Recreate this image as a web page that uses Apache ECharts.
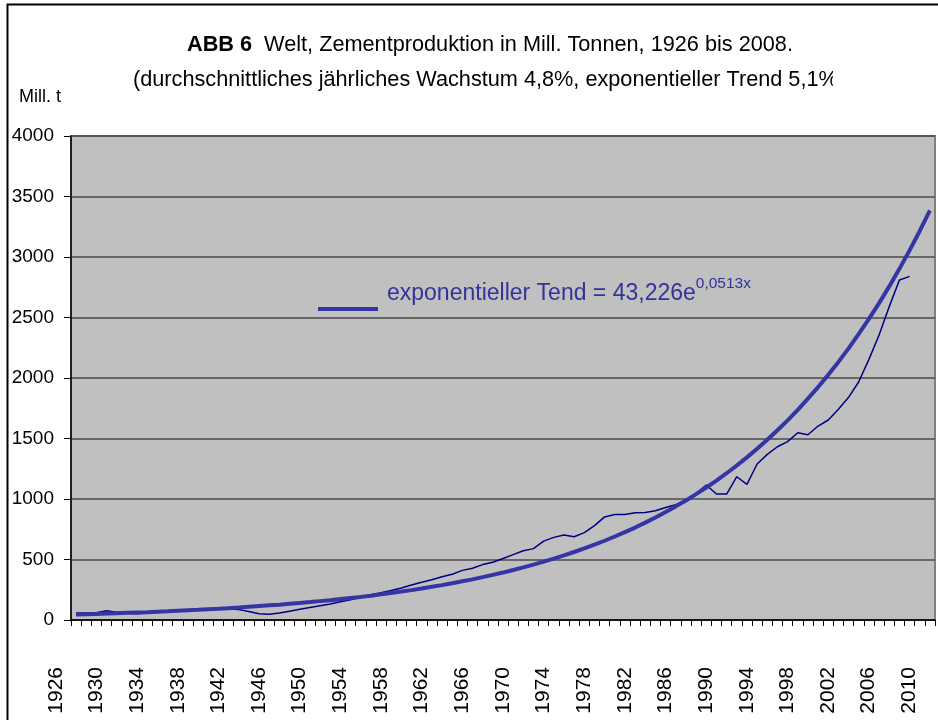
<!DOCTYPE html>
<html>
<head>
<meta charset="utf-8">
<script src="https://cdn.jsdelivr.net/npm/echarts@6/dist/echarts.min.js"></script>
<style>
  html, body { margin: 0; padding: 0; background: #fff; }
  #chart { width: 938px; height: 720px; }
</style>
</head>
<body>
<div id="chart"></div>
<script>
// Jahre der Kategorieachse (Daten 1926-2008, Trend bis 2010)
var years = [];
for (var y = 1926; y <= 2010; y++) years.push(String(y));

// Beschriftung der x-Achse (jedes 4. Jahr)
var tickLabels = ['1926', '1930', '1934', '1938', '1942', '1946', '1950', '1954', '1958', '1962', '1966',
  '1970', '1974', '1978', '1982', '1986', '1990', '1994', '1998', '2002', '2006', '2010'];

// Zementproduktion, Mill. t
var production = [58, 57, 60, 77, 64, 55, 52, 58, 65, 72,
  78, 82, 85, 88, 90, 90, 86, 70, 52, 47,
  58, 73, 88, 103, 118, 133, 150, 168, 188, 208,
  226, 244, 264, 290, 312, 333, 358, 378, 410, 428,
  458, 477, 508, 540, 572, 590, 652, 683, 702, 688,
  722, 780, 852, 872, 872, 887, 888, 903, 930, 953,
  992, 1047, 1116, 1041, 1041, 1184, 1121, 1289, 1369, 1432,
  1474, 1548, 1531, 1603, 1653, 1741, 1840, 1969, 2154, 2355,
  2590, 2810, 2840];

// exponentieller Trend
var trend = [46, 48, 50, 53, 56, 59, 62, 65, 69, 72,
  76, 80, 84, 89, 93, 98, 103, 109, 115, 121,
  127, 134, 141, 148, 156, 164, 173, 182, 191, 201,
  212, 223, 235, 247, 260, 274, 288, 304, 320, 336,
  354, 373, 392, 413, 435, 458, 482, 507, 534, 562,
  592, 623, 655, 690, 726, 764, 805, 847, 892, 939,
  988, 1040, 1095, 1152, 1213, 1277, 1344, 1415, 1489, 1568,
  1650, 1737, 1829, 1925, 2026, 2133, 2245, 2364, 2488, 2619,
  2757, 2902, 3055, 3215, 3385];

// Beschriftungsachse: um zwei Kategorien nach links versetzt (wie im Original)
var labelCats = [];
for (var i = 0; i < 87; i++) labelCats.push(i % 4 === 0 ? tickLabels[i / 4] : '');

var font = '"Liberation Sans", Arial, sans-serif';
var myChart = echarts.init(document.getElementById('chart'));

var option = {
  animation: false,
  textStyle: { fontFamily: font },
  title: [
    {
      text: '{b|ABB 6}  Welt, Zementproduktion in Mill. Tonnen, 1926 bis 2008.',
      left: 187, top: 34, padding: 0,
      textStyle: { fontSize: 21.7, fontWeight: 'normal', color: '#000', fontFamily: font,
        rich: { b: { fontSize: 21.7, fontWeight: 'bold', color: '#000', fontFamily: font } } }
    },
    {
      text: '(durchschnittliches jährliches Wachstum 4,8%, exponentieller Trend 5,1%)',
      left: 133, top: 69, padding: 0,
      textStyle: { fontSize: 21.7, fontWeight: 'normal', color: '#000', fontFamily: font }
    },
    {
      text: 'Mill. t',
      left: 19, top: 88, padding: 0,
      textStyle: { fontSize: 18, fontWeight: 'normal', color: '#000', fontFamily: font }
    }
  ],
  legend: {
    data: ['exponentieller Tend'],
    left: 318, top: 276, padding: 0,
    icon: 'rect', itemWidth: 60, itemHeight: 4,
    formatter: function () { return '{a|exponentieller Tend = 43,226e}{s|0,0513x}'; },
    textStyle: {
      color: '#333399',
      rich: {
        a: { fontSize: 23, color: '#333399', fontFamily: font, padding: [0, 0, 30, 4] },
        s: { fontSize: 15.5, color: '#333399', fontFamily: font, padding: [0, 0, 50, 0] }
      }
    }
  },
  grid: [
    { left: 71, right: 3, top: 136, bottom: 100, show: true, backgroundColor: '#c0c0c0',
      borderColor: '#808080', borderWidth: 2 },
    { left: 50.7, right: 3.3, top: 136, bottom: 100 }
  ],
  xAxis: [
    {
      type: 'category', gridIndex: 0, data: years, boundaryGap: true,
      axisLine: { lineStyle: { color: '#000', width: 1.5 } },
      axisTick: { show: true, interval: 0, length: 6, lineStyle: { color: '#000', width: 1 } },
      axisLabel: { show: false }
    },
    {
      type: 'category', gridIndex: 1, data: labelCats, boundaryGap: true,
      axisLine: { show: false }, axisTick: { show: false },
      axisLabel: { interval: 0, rotate: 90, margin: 47, fontSize: 21, color: '#000', fontFamily: font }
    }
  ],
  yAxis: [
    {
      type: 'value', gridIndex: 0, min: 0, max: 4000, interval: 500,
      axisLine: { show: true, lineStyle: { color: '#000', width: 1.5 } },
      axisTick: { show: true, length: 7, lineStyle: { color: '#000' } },
      axisLabel: { fontSize: 19, color: '#000', margin: 17, fontFamily: font,
        formatter: function (v) { return String(v); } },
      splitLine: { show: true, lineStyle: { color: '#4a4a4a', width: 1.5 } }
    },
    { type: 'value', gridIndex: 1, show: false }
  ],
  series: [
    {
      name: 'Zementproduktion', type: 'line', xAxisIndex: 0, yAxisIndex: 0,
      data: production, symbol: 'none', z: 2,
      lineStyle: { color: '#000080', width: 1.5 }
    },
    {
      name: 'exponentieller Tend', type: 'line', xAxisIndex: 0, yAxisIndex: 0,
      data: trend, symbol: 'none', z: 3,
      itemStyle: { color: '#3535a5' },
      lineStyle: { color: '#3535a5', width: 4 }
    }
  ],
  graphic: [
    // abgeschnittener Untertitel wie im Original
    { type: 'rect', left: 833, top: 64, shape: { width: 100, height: 34 }, style: { fill: '#fff' }, z: 100 },
    { type: 'rect', left: 5, top: 2, shape: { width: 940, height: 730 },
      style: { fill: 'none', stroke: '#000', lineWidth: 2 }, z: 101, silent: true }
  ]
};

myChart.setOption(option);
window.addEventListener('resize', function () {
  myChart.resize();
});
</script>
</body>
</html>
